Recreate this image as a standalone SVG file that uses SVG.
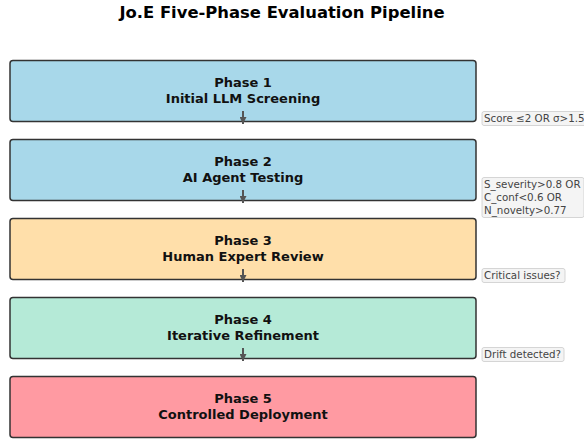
<svg xmlns="http://www.w3.org/2000/svg" width="584" height="439" viewBox="0 0 584 439">
<defs>
<marker id="ah" viewBox="0 0 10 10" refX="10" refY="5" markerWidth="7" markerHeight="7" orient="auto" markerUnits="userSpaceOnUse">
<path d="M0,0 L10,5 L0,10 z" fill="#555"/>
</marker>
<style>
.box{stroke:#333;stroke-width:1.5}
.t{font-family:"DejaVu Sans",sans-serif;font-weight:bold;font-size:13px;fill:#111;text-anchor:middle}
.title{font-family:"DejaVu Sans",sans-serif;font-weight:bold;font-size:16.4px;fill:#000;text-anchor:middle}
.lb{fill:#f4f4f4;stroke:#cccccc;stroke-width:0.8}
.lt{font-family:"DejaVu Sans",sans-serif;font-size:10.3px;fill:#444}
.ar{stroke:#555;stroke-width:2;fill:none}
</style>
</defs>
<rect width="584" height="439" fill="#fff"/>
<text class="title" x="282" y="18">Jo.E Five-Phase Evaluation Pipeline</text>

<g id="phase1"><rect class="box" x="10" y="60.5" width="466" height="61" rx="3" fill="#a8d8ea"/><text class="t" x="243" y="87">Phase 1</text><text class="t" x="243" y="103">Initial LLM Screening</text></g>
<g id="phase2"><rect class="box" x="10" y="139.5" width="466" height="61" rx="3" fill="#a8d8ea"/><text class="t" x="243" y="166">Phase 2</text><text class="t" x="243" y="182">AI Agent Testing</text></g>
<g id="phase3"><rect class="box" x="10" y="218.5" width="466" height="61" rx="3" fill="#ffdfaa"/><text class="t" x="243" y="245">Phase 3</text><text class="t" x="243" y="261">Human Expert Review</text></g>
<g id="phase4"><rect class="box" x="10" y="297.5" width="466" height="61" rx="3" fill="#b5ead7"/><text class="t" x="243" y="324">Phase 4</text><text class="t" x="243" y="340">Iterative Refinement</text></g>
<g id="phase5"><rect class="box" x="10" y="376.5" width="466" height="61" rx="3" fill="#ff9aa2"/><text class="t" x="243" y="403">Phase 5</text><text class="t" x="243" y="419">Controlled Deployment</text></g>

<g id="connectors">
<line class="ar" x1="243" y1="111" x2="243" y2="124" marker-end="url(#ah)"/>
<line class="ar" x1="243" y1="190" x2="243" y2="203" marker-end="url(#ah)"/>
<line class="ar" x1="243" y1="269" x2="243" y2="282" marker-end="url(#ah)"/>
<line class="ar" x1="243" y1="348" x2="243" y2="361" marker-end="url(#ah)"/>
</g>

<g id="labels">
<rect class="lb" x="482" y="111.5" width="110" height="14" rx="2"/><text class="lt" x="484" y="122">Score ≤2 OR σ&gt;1.5</text>
<rect class="lb" x="482" y="177.5" width="102" height="40" rx="2"/><text class="lt" x="484" y="188">S_severity&gt;0.8 OR</text><text class="lt" x="484" y="201">C_conf&lt;0.6 OR</text><text class="lt" x="484" y="214">N_novelty&gt;0.77</text>
<rect class="lb" x="482" y="268.5" width="83" height="14" rx="2"/><text class="lt" x="484" y="279">Critical issues?</text>
<rect class="lb" x="482" y="347.5" width="82" height="14" rx="2"/><text class="lt" x="484" y="358">Drift detected?</text>
</g>
</svg>
